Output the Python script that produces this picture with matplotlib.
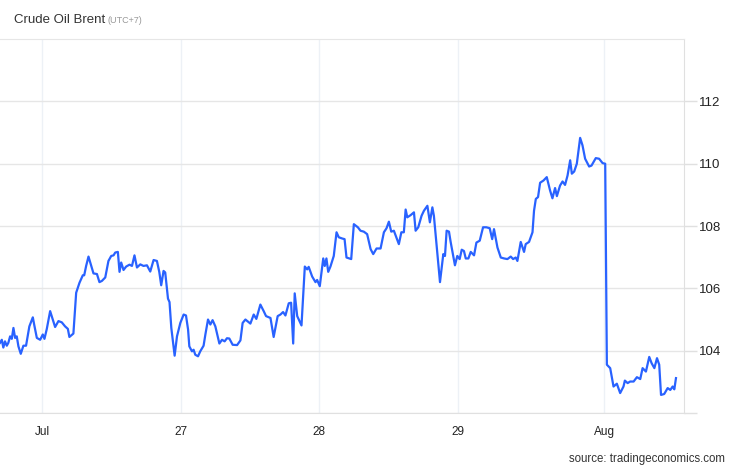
import numpy as np
import matplotlib
matplotlib.use("Agg")
import matplotlib.pyplot as plt

plt.rcParams['font.family'] = ['Liberation Sans', 'DejaVu Sans']

# x in trading days from the "Jul" tick, y = price (USD/bbl)
days = [-0.304, -0.291, -0.280, -0.268, -0.255, -0.244, -0.231, -0.219, -0.207, -0.195,
        -0.183, -0.171, -0.154, -0.135, -0.116, -0.092, -0.067, -0.056, -0.038, -0.014,
        0.005, 0.017, 0.034, 0.058, 0.077, 0.094, 0.118, 0.142, 0.166, 0.186,
        0.197, 0.226, 0.246, 0.270, 0.294, 0.304, 0.318, 0.335, 0.352, 0.371,
        0.396, 0.414, 0.432, 0.456, 0.479, 0.499, 0.516, 0.528, 0.547, 0.559,
        0.571, 0.588, 0.607, 0.631, 0.649, 0.667, 0.685, 0.709, 0.732, 0.757,
        0.781, 0.805, 0.829, 0.846, 0.860, 0.877, 0.889, 0.909, 0.920, 0.933,
        0.957, 0.974, 0.998, 1.022, 1.039, 1.054, 1.063, 1.082, 1.094, 1.106,
        1.126, 1.142, 1.166, 1.179, 1.198, 1.215, 1.231, 1.251, 1.280, 1.299,
        1.318, 1.335, 1.352, 1.376, 1.408, 1.432, 1.448, 1.468, 1.504, 1.528,
        1.547, 1.576, 1.600, 1.617, 1.649, 1.672, 1.701, 1.721, 1.740, 1.757,
        1.781, 1.798, 1.813, 1.824, 1.842, 1.873, 1.897, 1.914, 1.925, 1.950,
        1.974, 1.986, 2.005, 2.030, 2.041, 2.053, 2.066, 2.082, 2.106, 2.126,
        2.142, 2.167, 2.184, 2.198, 2.232, 2.251, 2.280, 2.299, 2.323, 2.347,
        2.372, 2.391, 2.415, 2.444, 2.468, 2.487, 2.504, 2.521, 2.540, 2.552,
        2.576, 2.594, 2.612, 2.625, 2.637, 2.661, 2.685, 2.697, 2.716, 2.740,
        2.757, 2.782, 2.800, 2.818, 2.829, 2.854, 2.873, 2.897, 2.909, 2.921,
        2.938, 2.950, 2.981, 2.998, 3.015, 3.030, 3.046, 3.059, 3.078, 3.095,
        3.119, 3.136, 3.160, 3.184, 3.208, 3.232, 3.250, 3.263, 3.288, 3.312,
        3.336, 3.360, 3.384, 3.401, 3.420, 3.432, 3.456, 3.480, 3.492, 3.516,
        3.541, 3.552, 3.565, 3.581, 3.596, 3.620, 3.644, 3.668, 3.685, 3.704,
        3.717, 3.740, 3.758, 3.776, 3.794, 3.813, 3.825, 3.842, 3.861, 3.885,
        3.902, 3.921, 3.950, 3.967, 3.998, 4.022, 4.047, 4.066, 4.078, 4.102,
        4.126, 4.150, 4.174, 4.198, 4.208, 4.228, 4.246, 4.271, 4.295, 4.319,
        4.336, 4.360, 4.384, 4.401, 4.421, 4.440, 4.456, 4.469, 4.492, 4.517,
        4.536, 4.553, 4.565, 4.577]
price = [104.25, 104.35, 104.10, 104.30, 104.16, 104.25, 104.46, 104.38, 104.73, 104.41,
         104.46, 104.14, 103.90, 104.16, 104.16, 104.78, 105.07, 104.81, 104.41, 104.35,
         104.52, 104.38, 104.70, 105.27, 105.00, 104.76, 104.95, 104.91, 104.78, 104.70,
         104.44, 104.55, 105.86, 106.18, 106.42, 106.42, 106.72, 107.02, 106.77, 106.48,
         106.46, 106.20, 106.24, 106.35, 106.88, 107.04, 107.06, 107.15, 107.17, 106.53,
         106.83, 106.59, 106.70, 106.76, 106.72, 107.06, 106.67, 106.77, 106.72, 106.74,
         106.54, 106.91, 106.88, 106.53, 106.10, 106.56, 106.51, 105.67, 105.56, 104.73,
         103.84, 104.46, 104.89, 105.16, 105.13, 104.68, 104.14, 103.98, 104.03, 103.87,
         103.82, 103.98, 104.16, 104.52, 105.00, 104.84, 104.98, 104.78, 104.23, 104.35,
         104.30, 104.40, 104.39, 104.19, 104.18, 104.33, 104.89, 105.00, 104.87, 105.16,
         105.02, 105.48, 105.27, 105.11, 105.05, 104.44, 105.11, 105.16, 105.24, 105.13,
         105.52, 105.54, 104.23, 105.84, 105.11, 104.81, 106.70, 106.61, 106.69, 106.38,
         106.20, 106.27, 106.07, 106.96, 106.72, 106.96, 106.53, 106.70, 107.04, 107.80,
         107.64, 107.60, 107.58, 106.99, 106.94, 108.06, 107.96, 107.85, 107.82, 107.74,
         107.26, 107.10, 107.28, 107.28, 107.80, 107.93, 108.14, 107.82, 107.85, 107.71,
         107.42, 107.80, 107.80, 108.53, 108.28, 108.35, 108.44, 107.85, 107.96, 108.33,
         108.49, 108.65, 108.12, 108.60, 108.33, 107.10, 106.20, 107.10, 107.04, 107.85,
         107.82, 107.49, 106.74, 107.04, 106.94, 107.24, 107.20, 106.96, 106.96, 107.17,
         107.06, 107.47, 107.53, 107.96, 107.96, 107.93, 107.58, 107.90, 107.31, 106.99,
         106.96, 106.94, 107.02, 106.94, 106.99, 106.88, 107.49, 107.17, 107.42, 107.49,
         107.80, 108.49, 108.87, 108.93, 109.39, 109.46, 109.57, 109.14, 108.89, 109.22,
         108.96, 109.30, 109.43, 109.32, 109.62, 110.11, 109.68, 109.75, 110.00, 110.83,
         110.59, 110.16, 109.91, 109.94, 110.18, 110.16, 110.02, 110.00, 103.55, 103.44,
         102.85, 102.94, 102.64, 102.85, 103.04, 102.96, 103.01, 103.01, 103.15, 103.09,
         103.44, 103.33, 103.80, 103.60, 103.44, 103.76, 103.55, 102.58, 102.61, 102.80,
         102.74, 102.85, 102.76, 103.12]

x_ticks = [0, 1, 2, 3, 4.06]
x_labels = ['Jul', '27', '28', '29', 'Aug']
y_ticks = [102, 104, 106, 108, 110, 112]
y_labels = ['', '104', '106', '108', '110', '112']

fig = plt.figure(figsize=(7.46, 4.68), dpi=100)
ax = fig.add_axes([0, 0.1175, 0.9169, 0.799])

ax.plot(days, price, color='#2962ff', linewidth=1.6, solid_joinstyle='round')

ax.set_xlim(-0.304, 4.635)
ax.set_ylim(102, 114)

ax.set_xticks(x_ticks)
ax.set_xticklabels(x_labels)
ax.set_yticks(y_ticks)
ax.set_yticklabels(y_labels)
ax.yaxis.tick_right()

ax.grid(axis='y', color='#e6e6e6', linewidth=1)
for xt in x_ticks:
    ax.axvline(xt, color='#edf1f6', linewidth=1, zorder=0)
ax.set_axisbelow(True)

ax.spines['left'].set_visible(False)
ax.spines['top'].set_color('#e6e6e6')
ax.spines['bottom'].set_color('#e0e0e0')
ax.spines['right'].set_color('#e0e0e0')

ax.tick_params(axis='x', length=0, pad=9, labelsize=8.5, labelcolor='#222222')
ax.tick_params(axis='y', length=9, width=1, color='#e0e0e0', pad=2,
               labelsize=9.5, labelcolor='#222222')

fig.text(0.019, 0.958, 'Crude Oil Brent', fontsize=9.5, color='#333333', va='center')
fig.text(0.1435, 0.956, '(UTC+7)', fontsize=6.5, color='#999999', va='center')
fig.text(0.972, 0.006, 'source: tradingeconomics.com', fontsize=8.3,
         color='#333333', ha='right', va='bottom')

fig.savefig('out.png', dpi=100)
